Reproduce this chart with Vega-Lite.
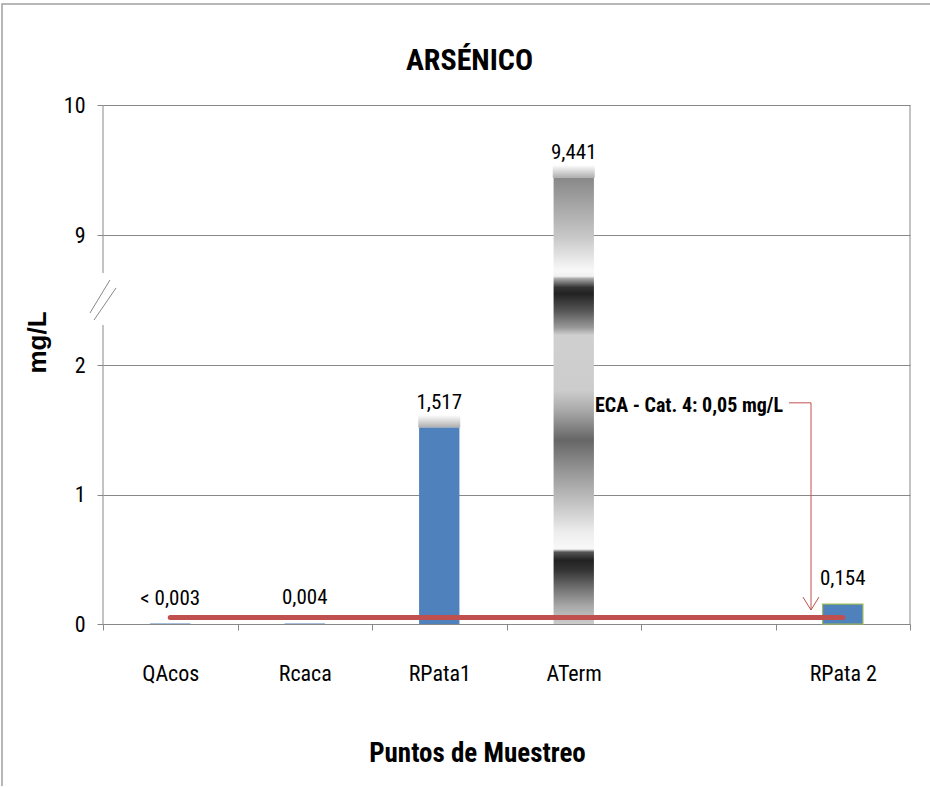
{
  "$schema": "https://vega.github.io/schema/vega-lite/v6.json",
  "width": 807,
  "height": 519,
  "autosize": {"type": "none"},
  "padding": {"left": 103, "top": 105, "right": 20, "bottom": 163},
  "background": "white",
  "title": {
    "text": "ARSÉNICO",
    "font": "Roboto Condensed, Liberation Sans Narrow, DejaVu Sans Condensed, sans-serif",
    "fontSize": 30,
    "fontWeight": "bold",
    "color": "#000000",
    "anchor": "middle",
    "frame": "group",
    "baseline": "alphabetic",
    "dx": -37,
    "offset": -99
  },
  "config": {
    "view": {"stroke": null},
    "font": "Roboto Condensed, Liberation Sans Narrow, DejaVu Sans Condensed, sans-serif",
    "axis": {
      "labelFont": "Roboto Condensed, Liberation Sans Narrow, DejaVu Sans Condensed, sans-serif",
      "titleFont": "Roboto Condensed, Liberation Sans Narrow, DejaVu Sans Condensed, sans-serif"
    },
    "text": {"font": "Roboto Condensed, Liberation Sans Narrow, DejaVu Sans Condensed, sans-serif"}
  },
  "datasets": {
    "muestras": [
      {"punto": "QAcos", "arsenico": 0.003, "etiqueta": "< 0,003"},
      {"punto": "Rcaca", "arsenico": 0.004, "etiqueta": "0,004"},
      {"punto": "RPata1", "arsenico": 1.517, "etiqueta": "1,517"},
      {"punto": "ATerm", "arsenico": 9.441, "etiqueta": "9,441"},
      {"punto": "RPata 2", "arsenico": 0.154, "etiqueta": "0,154"}
    ],
    "eca": [
      {"punto": "QAcos", "limite": 0.05},
      {"punto": "RPata 2", "limite": 0.05}
    ],
    "ejeY": [
      {"desde": 0, "hasta": 4.15},
      {"desde": 6.95, "hasta": 10}
    ],
    "corte": [
      {"trazo": "a", "orden": 1, "cx": -0.097, "cy": 4.8},
      {"trazo": "a", "orden": 2, "cx": 0.052, "cy": 6.58},
      {"trazo": "b", "orden": 1, "cx": -0.067, "cy": 4.42},
      {"trazo": "b", "orden": 2, "cx": 0.097, "cy": 6.15}
    ],
    "flecha": [
      {"trazo": "conector", "orden": 1, "cx": 5.1, "cy": 1.708},
      {"trazo": "conector", "orden": 2, "cx": 5.264, "cy": 1.708},
      {"trazo": "conector", "orden": 3, "cx": 5.264, "cy": 0.108},
      {"trazo": "punta", "orden": 1, "cx": 5.204, "cy": 0.208},
      {"trazo": "punta", "orden": 2, "cx": 5.264, "cy": 0.108},
      {"trazo": "punta", "orden": 3, "cx": 5.323, "cy": 0.208}
    ],
    "marco": [
      {"lado": "superior", "orden": 1, "cx": 6.2, "cy": 10.777},
      {"lado": "superior", "orden": 2, "cx": -0.751, "cy": 10.777},
      {"lado": "superior", "orden": 3, "cx": -0.751, "cy": -1.25}
    ]
  },
  "layer": [
    {
      "data": {"name": "muestras"},
      "transform": [{"filter": "datum.punto !== 'ATerm'"}],
      "mark": {"type": "bar", "width": {"band": 0.3}, "fill": "#4F81BD", "strokeWidth": 1.2},
      "encoding": {
        "x": {
          "field": "punto",
          "type": "nominal",
          "sort": null,
          "scale": {"domain": ["QAcos", "Rcaca", "RPata1", "ATerm", " ", "RPata 2"], "paddingInner": 0, "paddingOuter": 0},
          "axis": {
            "title": "Puntos de Muestreo",
            "tickBand": "extent",
            "grid": false,
            "tickSize": 6,
            "tickColor": "#888888",
            "domainColor": "#888888",
            "labelAngle": 0,
            "labelPadding": 33,
            "labelFontSize": 22,
            "labelColor": "#000000",
            "titleFontSize": 27,
            "titleFontWeight": "bold",
            "titleColor": "#000000",
            "titlePadding": 56,
            "titleX": 374,
            "titleAlign": "center"
          }
        },
        "y": {
          "field": "arsenico",
          "type": "quantitative",
          "scale": {"domain": [0, 2, 9, 10], "range": [519, 260, 130, 0], "nice": false, "zero": false},
          "axis": {
            "title": "mg/L",
            "values": [0, 1, 2, 9, 10],
            "format": "d",
            "domain": false,
            "grid": true,
            "gridColor": "#888888",
            "tickColor": "#888888",
            "tickSize": 6,
            "labelPadding": 12,
            "labelFontSize": 22,
            "labelColor": "#000000",
            "titleFont": "Liberation Sans, Arial, sans-serif",
            "titleFontSize": 26,
            "titleFontWeight": "bold",
            "titleColor": "#000000",
            "titleAngle": -90,
            "titleX": -58,
            "titleY": 237,
            "titleAlign": "center",
            "titleBaseline": "alphabetic"
          }
        },
        "stroke": {
          "condition": {"test": "datum.punto === 'RPata 2'", "value": "#9BBB59"},
          "value": null
        }
      }
    },
    {
      "data": {"name": "muestras"},
      "transform": [{"filter": "datum.punto === 'ATerm'"}],
      "mark": {
        "type": "bar",
        "width": {"band": 0.3},
        "color": {
          "gradient": "linear",
          "x1": 0, "y1": 0, "x2": 0, "y2": 1,
          "stops": [
            {"offset": 0, "color": "#888888"},
            {"offset": 0.134, "color": "#c8c8c8"},
            {"offset": 0.208, "color": "#f8f8f8"},
            {"offset": 0.221, "color": "#f0f0f0"},
            {"offset": 0.226, "color": "#aaaaaa"},
            {"offset": 0.246, "color": "#333333"},
            {"offset": 0.26, "color": "#222222"},
            {"offset": 0.298, "color": "#555555"},
            {"offset": 0.336, "color": "#999999"},
            {"offset": 0.353, "color": "#d0d0d0"},
            {"offset": 0.477, "color": "#cccccc"},
            {"offset": 0.521, "color": "#aaaaaa"},
            {"offset": 0.588, "color": "#666666"},
            {"offset": 0.662, "color": "#999999"},
            {"offset": 0.738, "color": "#c8c8c8"},
            {"offset": 0.796, "color": "#eeeeee"},
            {"offset": 0.832, "color": "#f8f8f8"},
            {"offset": 0.839, "color": "#555555"},
            {"offset": 0.857, "color": "#222222"},
            {"offset": 0.879, "color": "#333333"},
            {"offset": 0.924, "color": "#777777"},
            {"offset": 0.962, "color": "#aaaaaa"},
            {"offset": 1, "color": "#cccccc"}
          ]
        }
      },
      "encoding": {
        "x": {
          "field": "punto",
          "type": "nominal",
          "sort": null,
          "scale": {"domain": ["QAcos", "Rcaca", "RPata1", "ATerm", " ", "RPata 2"], "paddingInner": 0, "paddingOuter": 0},
          "axis": null
        },
        "y": {"field": "arsenico", "type": "quantitative"}
      }
    },
    {
      "data": {"name": "muestras"},
      "transform": [{"filter": "datum.punto === 'RPata1' || datum.punto === 'ATerm'"}],
      "mark": {
        "type": "point",
        "shape": "M-1,-0.6L1,-0.6L1,0L-1,0Z",
        "size": 1764,
        "filled": true,
        "opacity": 1,
        "strokeWidth": 0,
        "color": {
          "gradient": "linear",
          "x1": 0, "y1": 0, "x2": 0, "y2": 1,
          "stops": [
            {"offset": 0, "color": "rgba(120,120,120,0)"},
            {"offset": 1, "color": "rgba(120,120,120,0.6)"}
          ]
        }
      },
      "encoding": {
        "x": {
          "field": "punto",
          "type": "nominal",
          "sort": null,
          "scale": {"domain": ["QAcos", "Rcaca", "RPata1", "ATerm", " ", "RPata 2"], "paddingInner": 0, "paddingOuter": 0},
          "axis": null
        },
        "y": {"field": "arsenico", "type": "quantitative"}
      }
    },
    {
      "data": {"name": "muestras"},
      "mark": {"type": "text", "baseline": "alphabetic", "align": "center", "dy": -19, "fontSize": 21, "color": "#000000"},
      "encoding": {
        "x": {
          "field": "punto",
          "type": "nominal",
          "sort": null,
          "scale": {"domain": ["QAcos", "Rcaca", "RPata1", "ATerm", " ", "RPata 2"], "paddingInner": 0, "paddingOuter": 0},
          "axis": null
        },
        "y": {"field": "arsenico", "type": "quantitative"},
        "text": {"field": "etiqueta"}
      }
    },
    {
      "data": {"name": "eca"},
      "mark": {"type": "line", "color": "#C0504D", "strokeWidth": 5, "strokeCap": "round"},
      "encoding": {
        "x": {
          "field": "punto",
          "type": "nominal",
          "sort": null,
          "scale": {"domain": ["QAcos", "Rcaca", "RPata1", "ATerm", " ", "RPata 2"], "paddingInner": 0, "paddingOuter": 0},
          "axis": null
        },
        "y": {"field": "limite", "type": "quantitative"}
      }
    },
    {
      "data": {"name": "ejeY"},
      "mark": {"type": "rule", "color": "#888888", "strokeWidth": 1},
      "encoding": {
        "x": {"datum": 0, "type": "quantitative", "scale": {"domain": [0, 6], "nice": false, "zero": false}, "axis": null},
        "y": {"field": "desde", "type": "quantitative"},
        "y2": {"field": "hasta"}
      }
    },
    {
      "data": {"values": [{"borde": 0, "tope": 10}]},
      "mark": {"type": "rule", "color": "#888888", "strokeWidth": 1},
      "encoding": {
        "x": {"datum": 6, "type": "quantitative", "scale": {"domain": [0, 6], "nice": false, "zero": false}, "axis": null},
        "y": {"field": "borde", "type": "quantitative"},
        "y2": {"field": "tope"}
      }
    },
    {
      "data": {"name": "corte"},
      "mark": {"type": "line", "color": "#888888", "strokeWidth": 1},
      "encoding": {
        "x": {"field": "cx", "type": "quantitative", "scale": {"domain": [0, 6], "nice": false, "zero": false}, "axis": null},
        "y": {"field": "cy", "type": "quantitative"},
        "detail": {"field": "trazo"},
        "order": {"field": "orden"}
      }
    },
    {
      "data": {"name": "marco"},
      "mark": {"type": "line", "color": "#a0a0a0", "strokeWidth": 1.5, "clip": false},
      "encoding": {
        "x": {"field": "cx", "type": "quantitative", "scale": {"domain": [0, 6], "nice": false, "zero": false}, "axis": null},
        "y": {"field": "cy", "type": "quantitative"},
        "detail": {"field": "lado"},
        "order": {"field": "orden"}
      }
    },
    {
      "data": {"name": "flecha"},
      "mark": {"type": "line", "color": "#C0504D", "strokeWidth": 1},
      "encoding": {
        "x": {"field": "cx", "type": "quantitative", "scale": {"domain": [0, 6], "nice": false, "zero": false}, "axis": null},
        "y": {"field": "cy", "type": "quantitative"},
        "detail": {"field": "trazo"},
        "order": {"field": "orden"}
      }
    },
    {
      "data": {"values": [{"nota": "ECA - Cat. 4: 0,05 mg/L", "nx": 5.056, "ny": 1.685}]},
      "mark": {"type": "text", "align": "right", "baseline": "middle", "fontSize": 20, "fontWeight": "bold", "color": "#000000"},
      "encoding": {
        "x": {"field": "nx", "type": "quantitative", "scale": {"domain": [0, 6], "nice": false, "zero": false}, "axis": null},
        "y": {"field": "ny", "type": "quantitative"},
        "text": {"field": "nota"}
      }
    }
  ],
  "resolve": {"scale": {"x": "independent"}, "axis": {"x": "independent"}}
}
